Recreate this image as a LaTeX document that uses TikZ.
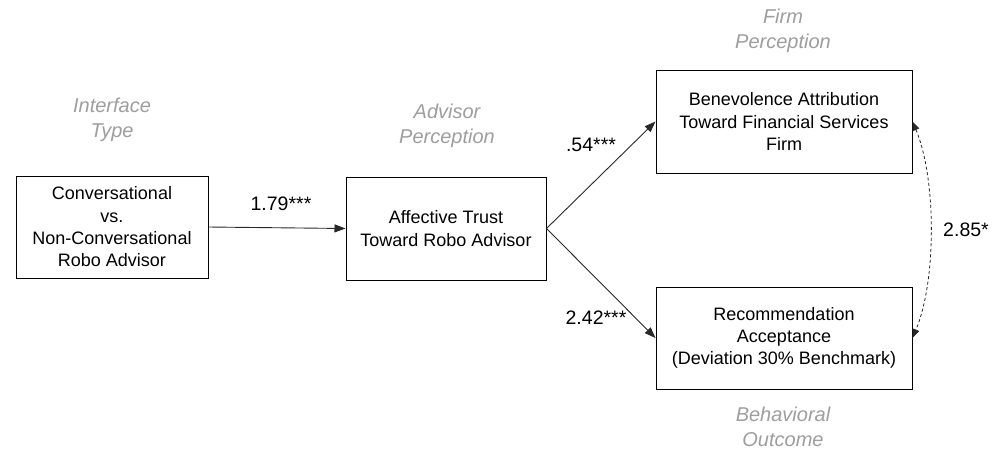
\documentclass[tikz,border=0pt]{standalone}
\usepackage{fontspec}
\setmainfont{Liberation Sans}
\usetikzlibrary{arrows.meta}
\definecolor{lblgray}{RGB}{158,158,158}
\definecolor{linegray}{RGB}{40,40,40}
\begin{document}
\begin{tikzpicture}[x=1pt,y=-1pt,
  box/.style={draw=black,line width=1pt,align=center,inner sep=0pt,
    font=\fontsize{18}{22.3}\selectfont},
  cat/.style={align=center,text=lblgray,font=\fontsize{20}{25}\selectfont\itshape},
  coef/.style={font=\fontsize{19.5}{22}\selectfont},
  conn/.style={draw=linegray,line width=0.9pt,-{Triangle[length=11pt,width=8pt]}},
  corr/.style={draw=linegray,line width=0.8pt,dash pattern=on 3pt off 2.5pt,
    {Triangle[length=9pt,width=7pt]}-{Triangle[length=9pt,width=7pt]}}]
\useasboundingbox (0,0) rectangle (1001,453);
\fill[white] (0,0) rectangle (1001,453);

\node[box,minimum width=192pt,minimum height=102pt] (b1) at (112,227)
  {Conversational\\vs.\\Non-Conversational\\Robo Advisor};
\node[box,minimum width=200pt,minimum height=103pt] (b2) at (446,228.5)
  {Affective Trust\\Toward Robo Advisor};
\node[box,minimum width=256pt,minimum height=103pt] (b3) at (784,121.5)
  {Benevolence Attribution\\Toward Financial Services\\Firm};
\node[box,minimum width=256pt,minimum height=102pt] (b4) at (784,338)
  {Recommendation\\Acceptance\\(Deviation 30\% Benchmark)};

\node[cat] (c1) at (112,120) {Interface\\Type};
\node[cat] (c2) at (447,125.5) {Advisor\\Perception};
\node[cat] (c3) at (783,31) {Firm\\Perception};
\node[cat] (c4) at (783,427) {Behavioral\\Outcome};

\draw[conn] (b1.east) -- (b2.west);
\draw[conn] (b2.east) -- (b3.west);
\draw[conn] (b2.east) -- (b4.west);
\draw[corr] (b3.east) .. controls +(24,57) and +(24,-57) .. (b4.east);

\node[coef] (l1) at (281,204) {1.79***};
\node[coef] (l2) at (591,145) {.54***};
\node[coef] (l3) at (596,318) {2.42***};
\node[coef] (l4) at (966,230) {2.85*};
\end{tikzpicture}
\end{document}
